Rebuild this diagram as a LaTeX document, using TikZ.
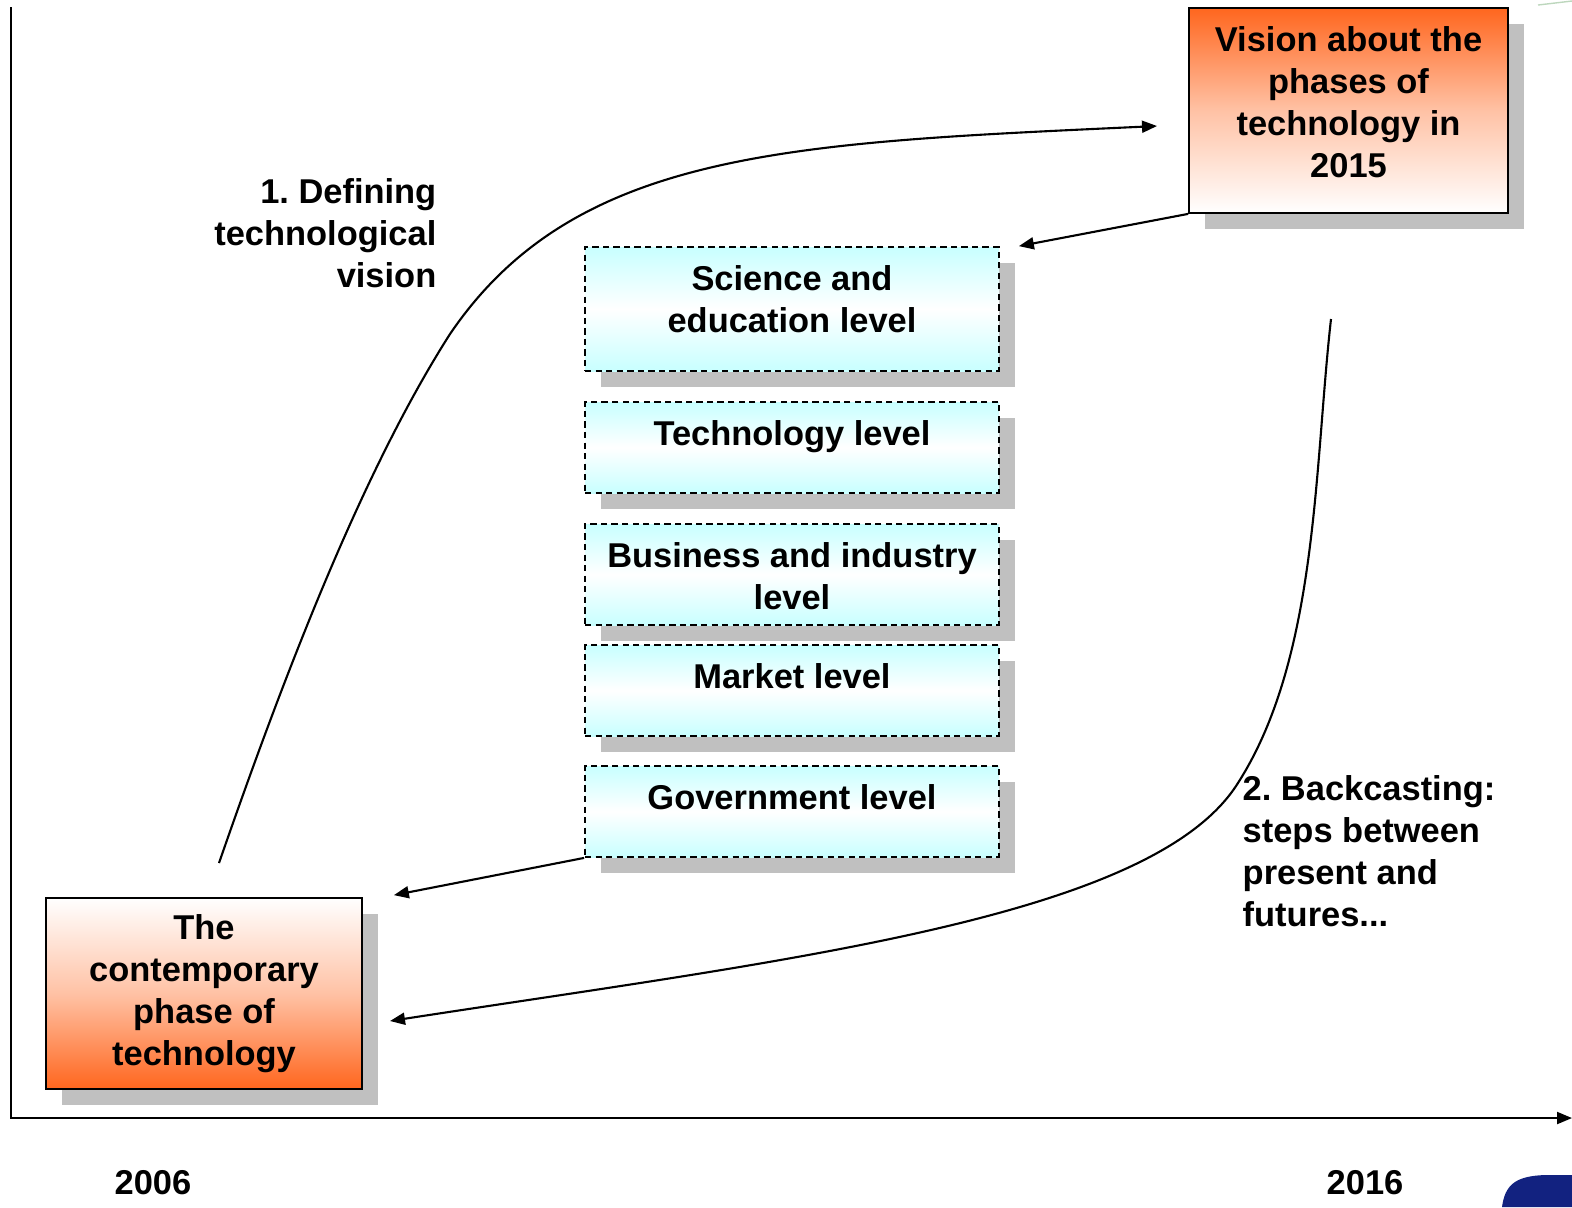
\documentclass[tikz,border=0pt]{standalone}
\usepackage{fontspec}
\setmainfont{Liberation Sans}
\usetikzlibrary{shadows,arrows.meta}
\definecolor{vorange}{RGB}{255,102,30}
\definecolor{lcyan}{RGB}{200,255,255}
\definecolor{shadowgray}{RGB}{192,192,192}
\definecolor{logoblue}{RGB}{18,34,128}
\frenchspacing
\begin{document}
\begin{tikzpicture}[x=0.1mm,y=-0.1mm,
    txt/.style={font=\fontsize{9.8}{11.95}\selectfont\bfseries, inner sep=0pt, align=center},
    boxshadow/.style={drop shadow={shadow xshift=1.6mm, shadow yshift=-1.6mm, fill=shadowgray, opacity=1}},
    phase/.style={draw, line width=0.5pt, inner sep=0pt, boxshadow},
    level/.style={draw, dash pattern=on 1.8pt off 1.2pt, line width=0.5pt, inner sep=0pt,
        top color=lcyan, bottom color=lcyan, middle color=white, minimum width=41.4mm, boxshadow},
    link/.style={line width=0.6pt, -{Triangle[length=1.5mm,width=1.2mm]}}]
    \useasboundingbox (0,0) rectangle (1572,1207);
    \fill[logoblue] (1502,1207) .. controls (1505,1185) and (1515,1176) .. (1545,1175) -- (1572,1175) -- (1572,1207) -- cycle;
    \draw[black!15!green!30!gray!40, line width=0.4pt] (1538,5) -- (1572,1);

    \node[phase, minimum width=31.9mm, minimum height=20.5mm, top color=vorange, bottom color=white, middle color=vorange!40] (vision) at (1348.5,110.5) {};
    \node[txt] (visiontext) at ([yshift=0.8mm]vision.center) {Vision about the\\phases of\\technology in\\2015};
    \node[phase, minimum width=31.6mm, minimum height=19.1mm, top color=white, bottom color=vorange, middle color=vorange!40] (present) at (204,993.5) {};
    \node[txt] (presenttext) at (present.center) {The\\contemporary\\phase of\\technology};

    \node[level, minimum height=12.4mm] (science) at (792,309) {};
    \node[txt, anchor=north] (sciencetext) at ([yshift=-1.9mm]science.north) {Science and\\education level};
    \node[level, minimum height=9.1mm] (technology) at (792,447.5) {};
    \node[txt, anchor=north] (technologytext) at ([yshift=-1.9mm]technology.north) {Technology level};
    \node[level, minimum height=10.1mm] (business) at (792,574.5) {};
    \node[txt, anchor=north] (businesstext) at ([yshift=-1.9mm]business.north) {Business and industry\\level};
    \node[level, minimum height=9.1mm] (market) at (792,690.5) {};
    \node[txt, anchor=north] (markettext) at ([yshift=-1.9mm]market.north) {Market level};
    \node[level, minimum height=9.1mm] (government) at (792,811.5) {};
    \node[txt, anchor=north] (governmenttext) at ([yshift=-1.9mm]government.north) {Government level};

    \node[txt, align=right, anchor=north east] (defining) at (437,178) {1. Defining\\technological\\vision};
    \node[txt, align=left, anchor=north west] (backcasting) at (1242,775) {2. Backcasting:\\steps between\\present and\\futures...};
    \node[txt, anchor=base] (start) at (153,1194) {2006};
    \node[txt, anchor=base] (finish) at (1365,1194) {2016};

    \coordinate (origin) at (11,1118);
    \draw[link] (11,7) -- (origin) -- (1572,1118);

    \coordinate (up) at (219,863);
    \coordinate (upbend) at (450,334);
    \coordinate (upend) at (1157,126);
    \draw[link] (up) .. controls (278,693) and (358,478) .. (upbend) .. controls (575,150) and (790,143) .. (upend);
    \coordinate (down) at (1331,319);
    \coordinate (downbend) at (1236,786);
    \coordinate (downend) at (390,1021);
    \draw[link] (down) .. controls (1314,469) and (1318,661) .. (downbend) .. controls (1148,919) and (785,960) .. (downend);

    \draw[link] (vision.south west) -- ([xshift=1.9mm]science.north east);
    \draw[link] (government.south west) -- ([shift={(31,-2)}]present.north east);
\end{tikzpicture}
\end{document}
